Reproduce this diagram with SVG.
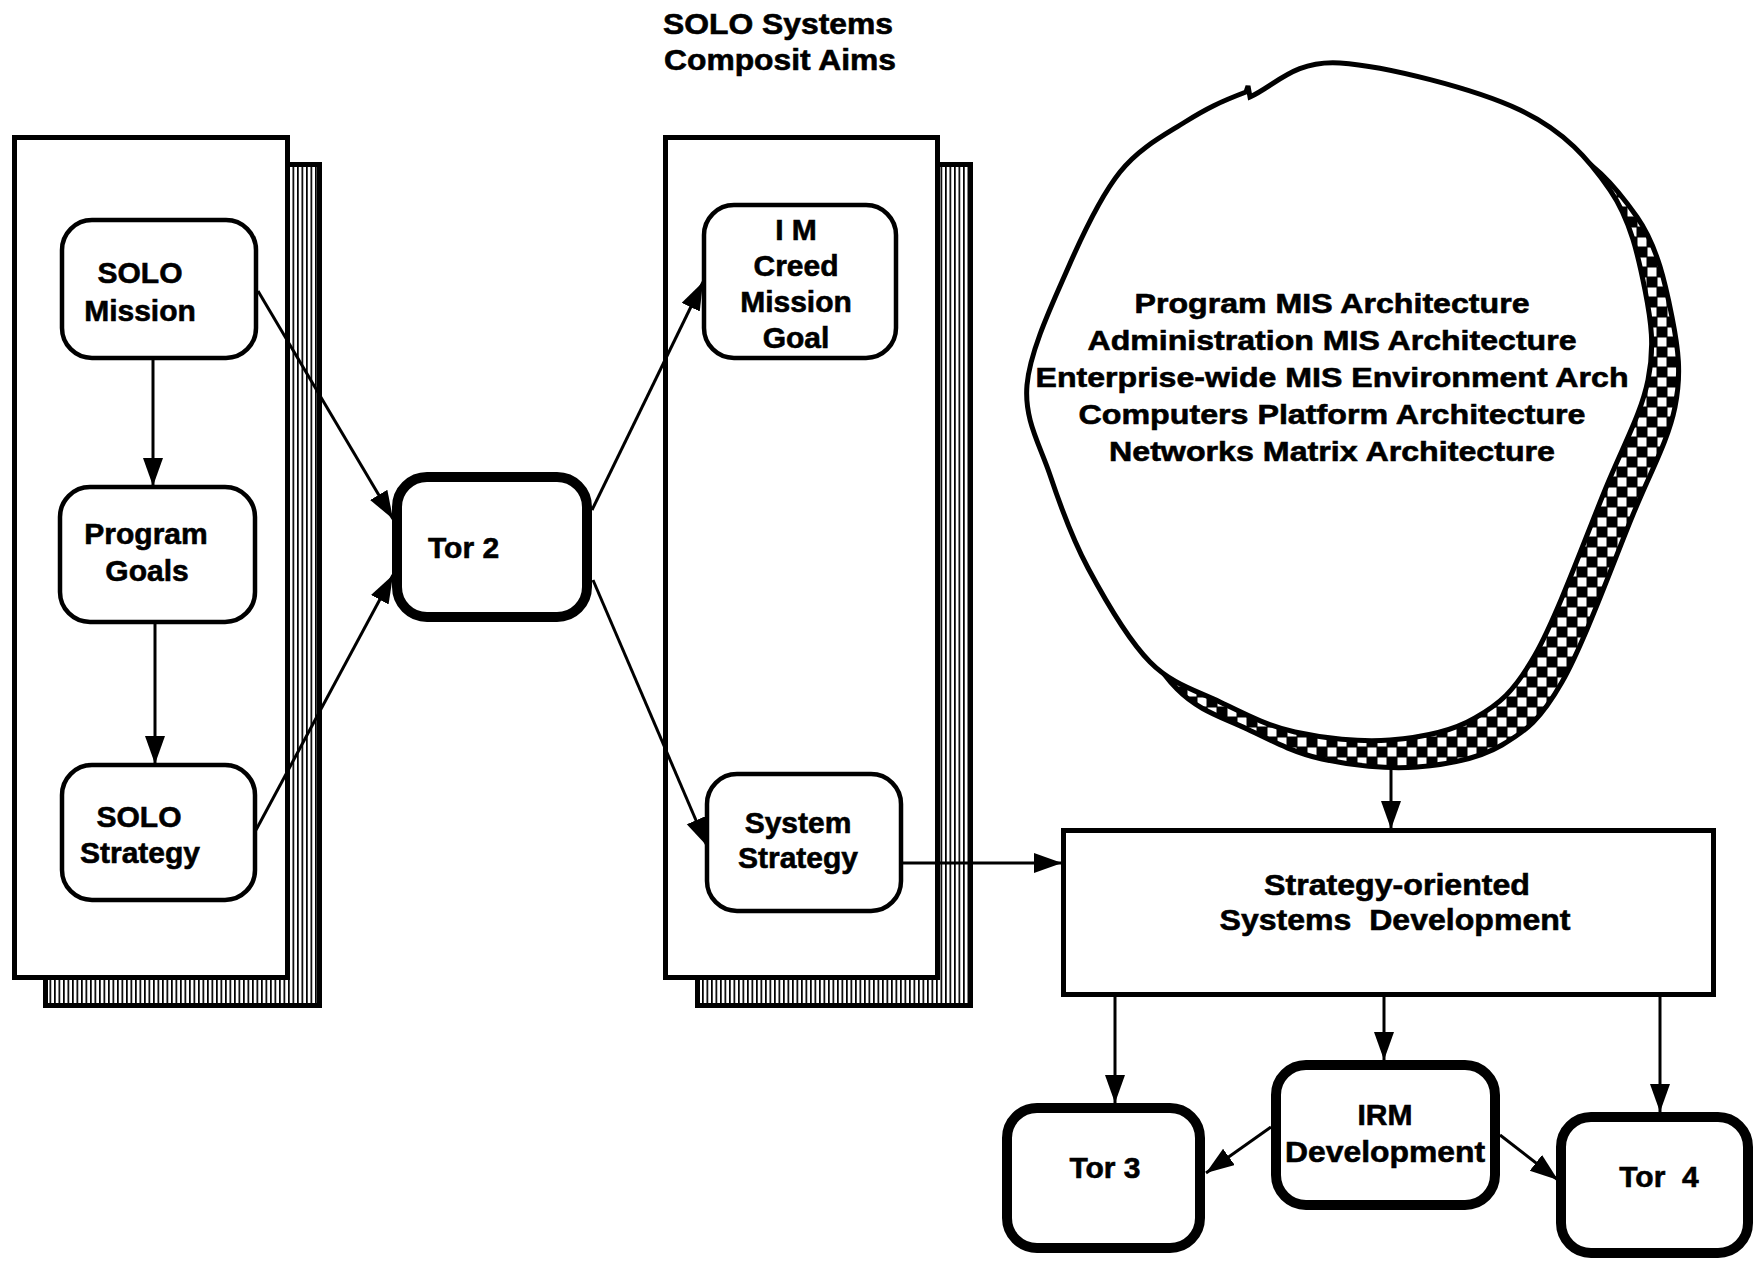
<svg xmlns="http://www.w3.org/2000/svg" xmlns:xlink="http://www.w3.org/1999/xlink" width="1759" height="1262" viewBox="0 0 1759 1262">
  <style>
    text { font-family: "Liberation Sans", Arial, Helvetica, sans-serif; font-weight: bold; fill: #000; stroke: #000; stroke-width: 0.6; }
    .lbl { font-size: 30px; text-anchor: middle; }
    .arch { font-size: 28px; text-anchor: middle; }
    .title { font-size: 29px; }
    .panel { fill: #fff; stroke: #000; stroke-width: 5; }
    .shadow { fill: url(#stripes); stroke: #000; stroke-width: 5; }
    .node { fill: #fff; stroke: #000; stroke-width: 4.5; }
    .thick { fill: #fff; stroke: #000; stroke-width: 10; }
    .edge { fill: none; stroke: #000; stroke-width: 3; marker-end: url(#arrow); }
  </style>
  <defs>
    <pattern id="stripes" patternUnits="userSpaceOnUse" width="4.5" height="10">
      <rect width="4.5" height="10" fill="#fff"/>
      <rect width="1.7" height="10" fill="#000"/>
    </pattern>
    <pattern id="checker" patternUnits="userSpaceOnUse" width="20" height="20">
      <rect width="20" height="20" fill="#000"/>
      <rect x="0.5" y="0.5" width="9" height="9" fill="#fff"/>
      <rect x="10.5" y="10.5" width="9" height="9" fill="#fff"/>
    </pattern>
    <marker id="arrow" markerUnits="userSpaceOnUse" markerWidth="30" markerHeight="22" refX="28" refY="10" orient="auto">
      <path d="M0,0 L28,10 L0,20 Z" fill="#000"/>
    </marker>
    <path id="blob" d="M1340,63 C1385.7,66 1475,88.8 1520,110 C1565,131.2 1589.2,160 1610,190 C1630.8,220 1638.7,258.3 1645,290 C1651.3,321.7 1654.7,346.7 1648,380 C1641.3,413.3 1623.8,444.2 1605,490 C1586.2,535.8 1556.7,617 1535,655 C1513.3,693 1499.2,703.8 1475,718 C1450.8,732.2 1420,737.7 1390,740 C1360,742.3 1323.3,738.3 1295,732 C1266.7,725.7 1244.2,713.7 1220,702 C1195.8,690.3 1172,684.3 1150,662 C1128,639.7 1104.7,599.2 1088,568 C1071.3,536.8 1060.2,505.5 1050,475 C1039.8,444.5 1024,419.5 1027,385 C1030,350.5 1052.5,303.5 1068,268 C1083.5,232.5 1100.5,196.3 1120,172 C1139.5,147.7 1164,135.3 1185,122 C1206,108.7 1220.2,101.8 1246,92 L1248,86 L1250,97 C1276,85 1294.3,60 1340,63 Z"/>
  </defs>

  <rect width="1759" height="1262" fill="#fff"/>

  <!-- heading over the middle panel -->
  <g id="heading">
    <text class="title" x="663" y="34" textLength="230" lengthAdjust="spacingAndGlyphs">SOLO Systems</text>
    <text class="title" x="664" y="70" textLength="232" lengthAdjust="spacingAndGlyphs">Composit Aims</text>
  </g>

  <!-- left panel with striped drop shadow -->
  <g id="solo-panel">
    <rect class="shadow" x="45.5" y="164.5" width="274" height="841"/>
    <rect class="panel" x="14.5" y="137.5" width="273" height="840"/>
  </g>

  <!-- middle panel with striped drop shadow -->
  <g id="aims-panel">
    <rect class="shadow" x="697.5" y="164.5" width="273" height="841"/>
    <rect class="panel" x="665.5" y="137.5" width="272" height="840"/>
  </g>

  <!-- architecture cloud with checkered shadow -->
  <g id="architecture">
    <use xlink:href="#blob" transform="translate(27,27)" fill="url(#checker)" stroke="#000" stroke-width="5"/>
    <use xlink:href="#blob" fill="#fff" stroke="#000" stroke-width="5"/>
    <text class="arch" x="1332" y="313" textLength="395" lengthAdjust="spacingAndGlyphs">Program MIS Architecture</text>
    <text class="arch" x="1332" y="350" textLength="489" lengthAdjust="spacingAndGlyphs">Administration MIS Architecture</text>
    <text class="arch" x="1332" y="387" textLength="593" lengthAdjust="spacingAndGlyphs">Enterprise-wide MIS Environment Arch</text>
    <text class="arch" x="1332" y="424" textLength="507" lengthAdjust="spacingAndGlyphs">Computers Platform Architecture</text>
    <text class="arch" x="1332" y="461" textLength="446" lengthAdjust="spacingAndGlyphs">Networks Matrix Architecture</text>
  </g>

  <g id="solo-mission">
    <rect class="node" x="62" y="220" width="194" height="138" rx="30"/>
    <text class="lbl" x="140" y="283">SOLO</text>
    <text class="lbl" x="140" y="321">Mission</text>
  </g>

  <g id="program-goals">
    <rect class="node" x="60" y="487" width="195" height="135" rx="30"/>
    <text class="lbl" x="146" y="544">Program</text>
    <text class="lbl" x="147" y="581">Goals</text>
  </g>

  <g id="solo-strategy">
    <rect class="node" x="62" y="765" width="193" height="135" rx="30"/>
    <text class="lbl" x="139" y="827">SOLO</text>
    <text class="lbl" x="140" y="863">Strategy</text>
  </g>

  <g id="tor-2">
    <rect class="thick" x="397" y="477" width="190" height="140" rx="30"/>
    <text class="lbl" x="428" y="558" style="text-anchor:start">Tor 2</text>
  </g>

  <g id="im-creed">
    <rect class="node" x="704" y="205" width="192" height="153" rx="30"/>
    <text class="lbl" x="796" y="240">I M</text>
    <text class="lbl" x="796" y="276">Creed</text>
    <text class="lbl" x="796" y="312">Mission</text>
    <text class="lbl" x="796" y="348">Goal</text>
  </g>

  <g id="system-strategy">
    <rect class="node" x="707" y="774" width="194" height="137" rx="30"/>
    <text class="lbl" x="798" y="833">System</text>
    <text class="lbl" x="798" y="868">Strategy</text>
  </g>

  <g id="systems-development">
    <rect x="1063.5" y="830.5" width="650" height="164" fill="#fff" stroke="#000" stroke-width="5"/>
    <text class="lbl" x="1397" y="895" textLength="266" lengthAdjust="spacingAndGlyphs">Strategy-oriented</text>
    <text class="lbl" x="1395" y="930" style="white-space:pre" textLength="351" lengthAdjust="spacingAndGlyphs">Systems  Development</text>
  </g>

  <g id="tor-3">
    <rect class="thick" x="1007" y="1108" width="193" height="140" rx="30"/>
    <text class="lbl" x="1105" y="1178">Tor 3</text>
  </g>

  <g id="irm-development">
    <rect class="thick" x="1276" y="1065" width="219" height="140" rx="30"/>
    <text class="lbl" x="1385" y="1125">IRM</text>
    <text class="lbl" x="1385" y="1162" textLength="200" lengthAdjust="spacingAndGlyphs">Development</text>
  </g>

  <g id="tor-4">
    <rect class="thick" x="1561" y="1117" width="187" height="136" rx="30"/>
    <text class="lbl" x="1659" y="1187" style="white-space:pre">Tor  4</text>
  </g>

  <g id="connectors">
    <line class="edge" x1="153" y1="360" x2="153" y2="486"/>
    <line class="edge" x1="155" y1="624" x2="155" y2="764"/>
    <line class="edge" x1="258" y1="291" x2="393" y2="519"/>
    <line class="edge" x1="256" y1="830" x2="393" y2="575"/>
    <line class="edge" x1="592" y1="510" x2="703" y2="282"/>
    <line class="edge" x1="593" y1="580" x2="707" y2="846"/>
    <line class="edge" x1="903" y1="863" x2="1062" y2="863"/>
    <line class="edge" x1="1391" y1="766" x2="1391" y2="829"/>
    <line class="edge" x1="1115" y1="997" x2="1115" y2="1103"/>
    <line class="edge" x1="1384" y1="997" x2="1384" y2="1060"/>
    <line class="edge" x1="1660" y1="997" x2="1660" y2="1112"/>
    <line class="edge" x1="1271" y1="1127" x2="1206" y2="1173"/>
    <line class="edge" x1="1500" y1="1135" x2="1558" y2="1180"/>
  </g>
</svg>
